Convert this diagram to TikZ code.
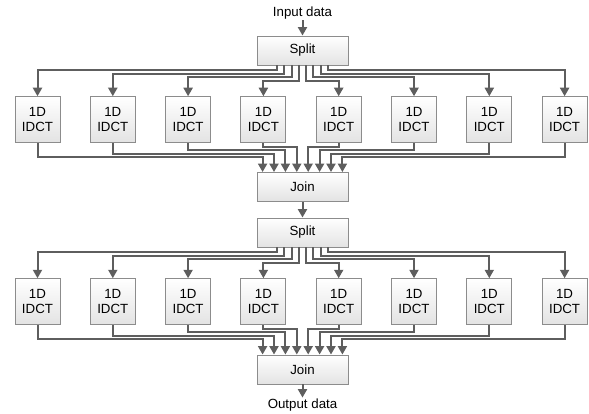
\documentclass[tikz,border=0pt]{standalone}
\usepackage{fontspec}
\setmainfont{Liberation Sans}
\usetikzlibrary{arrows.meta,calc}
\definecolor{wire}{HTML}{5E5E5E}
\definecolor{edge}{HTML}{8C8C8C}
\begin{document}
\begin{tikzpicture}[x=1pt,y=-1pt,
  box/.style={draw=edge,line width=0.9pt,top color=white,bottom color=black!11,
    minimum width=45pt,minimum height=46pt,inner sep=0pt,align=center,
    font=\fontsize{13.3}{15}\selectfont},
  bar/.style={box,minimum width=91pt,minimum height=29pt},
  flow/.style={draw=wire,line width=2pt,-{Triangle[length=8.5pt,width=9pt]}},
  lbl/.style={inner sep=1pt,font=\fontsize{13.3}{15}\selectfont}]
\useasboundingbox (0,0) rectangle (589,414);

% stage one
\node[lbl] (in) at (302.5,13) {Input data};
\node[bar] (s1) at (302.5,50.5) {Split};
\node[bar] (j1) at (302.5,187) {Join};
% stage two
\node[bar] (s2) at (302.5,232.5) {Split};
\node[bar] (j2) at (302.5,369.5) {Join};
\node[lbl] (out) at (302.5,405) {Output data};

\foreach \i in {1,...,8}{
  \node[box] (a\i) at ({37.5+75.3*(\i-1)},119.7) {1D\\IDCT};
  \node[box] (b\i) at ({37.5+75.3*(\i-1)},301.7) {1D\\IDCT};
}

\draw[flow] (in) -- (s1);
\draw[flow] (j1) -- (s2);
\draw[flow] (j2) -- (out);

% fan-out from Split: exit offset / drop below Split
% fan-in to Join: drop below box / entry offset
\foreach \i/\sx/\sd/\jd/\jx in {1/-25.55/5/14/-39.9, 2/-18.25/8.5/10.5/-28.5,
    3/-10.95/12/7/-17.1, 4/-3.65/15.5/3.5/-5.7, 5/3.65/15.5/3.5/5.7,
    6/10.95/12/7/17.1, 7/18.25/8.5/10.5/28.5, 8/25.55/5/14/39.9}{
  \draw[flow] ([xshift=\sx pt]s1.south) -- ++(0,\sd) -| (a\i.north);
  \draw[flow] (a\i.south) -- ++(0,\jd) -| ([xshift=\jx pt]j1.north);
  \draw[flow] ([xshift=\sx pt]s2.south) -- ++(0,\sd) -| (b\i.north);
  \draw[flow] (b\i.south) -- ++(0,\jd) -| ([xshift=\jx pt]j2.north);
}
\end{tikzpicture}
\end{document}
